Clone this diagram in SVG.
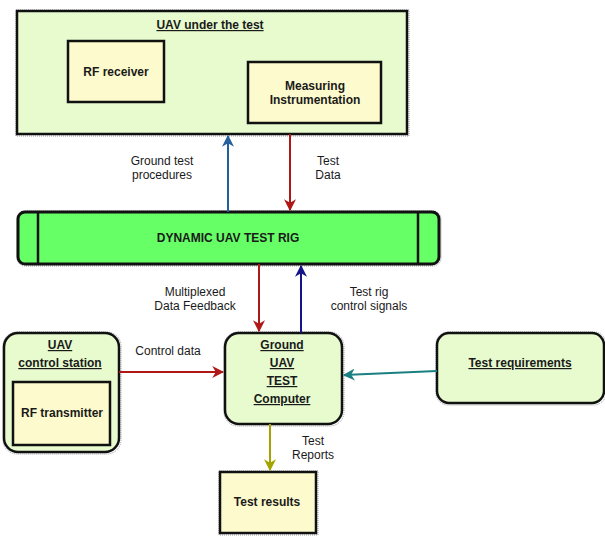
<svg xmlns="http://www.w3.org/2000/svg" width="605" height="536" viewBox="0 0 605 536">
<style>
  .box{stroke:#111;stroke-width:2.5}
  .green{fill:#e7fbcf}
  .yellow{fill:#fdfbcd}
  .shadow{fill:none;stroke:#999;stroke-width:1;stroke-dasharray:1 1}
  text{font-family:"Liberation Sans",Arial,sans-serif;font-size:12px;fill:#1a1a1a;text-anchor:middle}
  .b{font-weight:bold}
  .u{text-decoration:underline}
  .lbl{font-size:12px}
  .c{fill:none;stroke-width:2}
</style>
<defs>
  <marker id="aRed" viewBox="0 0 10 10" refX="9" refY="5" markerWidth="6" markerHeight="6" orient="auto"><path d="M0,0 L10,5 L0,10 L3,5 Z" fill="#b01818"/></marker>
  <marker id="aBlue" viewBox="0 0 10 10" refX="9" refY="5" markerWidth="6" markerHeight="6" orient="auto"><path d="M0,0 L10,5 L0,10 L3,5 Z" fill="#245f9e"/></marker>
  <marker id="aNavy" viewBox="0 0 10 10" refX="9" refY="5" markerWidth="6" markerHeight="6" orient="auto"><path d="M0,0 L10,5 L0,10 L3,5 Z" fill="#14148a"/></marker>
  <marker id="aOlive" viewBox="0 0 10 10" refX="9" refY="5" markerWidth="6" markerHeight="6" orient="auto"><path d="M0,0 L10,5 L0,10 L3,5 Z" fill="#a4a400"/></marker>
  <marker id="aTeal" viewBox="0 0 10 10" refX="9" refY="5" markerWidth="6" markerHeight="6" orient="auto"><path d="M0,0 L10,5 L0,10 L3,5 Z" fill="#1a7f80"/></marker>
</defs>

<g id="uav-under-test">
  <rect class="shadow" x="16" y="10" width="393" height="126"/>
  <rect class="box green" x="17" y="11" width="390" height="123"/>
  <text class="b u" x="210" y="29">UAV under the test</text>
</g>
<g id="rf-receiver">
  <rect class="box yellow" x="68" y="41" width="96" height="61"/>
  <text class="b" x="116" y="76">RF receiver</text>
</g>
<g id="measuring">
  <rect class="box yellow" x="248" y="62" width="133" height="61"/>
  <text class="b" x="315" y="90">Measuring</text>
  <text class="b" x="315" y="104">Instrumentation</text>
</g>

<g id="test-rig">
  <rect class="shadow" x="17" y="211" width="424" height="55" rx="8"/>
  <rect x="18" y="212" width="421" height="52" rx="7" fill="#66ff66" stroke="#111" stroke-width="3"/>
  <line x1="38" y1="212" x2="38" y2="264" stroke="#111" stroke-width="2.5"/>
  <line x1="418" y1="212" x2="418" y2="264" stroke="#111" stroke-width="2.5"/>
  <text class="b" x="228" y="242">DYNAMIC UAV TEST RIG</text>
</g>

<g id="uav-control-station">
  <rect class="shadow" x="3" y="332" width="118" height="122" rx="14"/>
  <rect class="box green" x="4" y="333" width="115" height="119" rx="14"/>
  <text class="b u" x="60" y="349">UAV</text>
  <text class="b u" x="60" y="367">control station</text>
</g>
<g id="rf-transmitter">
  <rect class="box yellow" x="13" y="382" width="97" height="63"/>
  <text class="b" x="62" y="417">RF transmitter</text>
</g>

<g id="ground-computer">
  <rect class="shadow" x="224" y="332" width="120" height="94" rx="14"/>
  <rect class="box green" x="225" y="333" width="117" height="91" rx="14"/>
  <text class="b u" x="282" y="349">Ground</text>
  <text class="b u" x="282" y="367">UAV</text>
  <text class="b u" x="282" y="385">TEST</text>
  <text class="b u" x="282" y="403">Computer</text>
</g>

<g id="test-requirements">
  <rect class="shadow" x="436" y="332" width="170" height="73" rx="12"/>
  <rect class="box green" x="437" y="333" width="167" height="70" rx="12"/>
  <text class="b u" x="520" y="367">Test requirements</text>
</g>

<g id="test-results">
  <rect class="shadow" x="219" y="471" width="99" height="64"/>
  <rect class="box yellow" x="220" y="472" width="96" height="61"/>
  <text class="b" x="267" y="506">Test results</text>
</g>

<g id="connectors">
  <line class="c" x1="228" y1="212" x2="228" y2="136" stroke="#245f9e" marker-end="url(#aBlue)"/>
  <line class="c" x1="290" y1="134" x2="290" y2="210" stroke="#b01818" marker-end="url(#aRed)"/>
  <line class="c" x1="259" y1="264" x2="259" y2="331" stroke="#b01818" marker-end="url(#aRed)"/>
  <line class="c" x1="301" y1="333" x2="301" y2="266" stroke="#14148a" marker-end="url(#aNavy)"/>
  <line class="c" x1="119" y1="372" x2="223" y2="372" stroke="#b01818" marker-end="url(#aRed)"/>
  <line class="c" x1="437" y1="371" x2="344" y2="375" stroke="#1a7f80" marker-end="url(#aTeal)"/>
  <line class="c" x1="270" y1="424" x2="270" y2="470" stroke="#a4a400" marker-end="url(#aOlive)"/>

  <text class="lbl" x="162" y="165">Ground test</text>
  <text class="lbl" x="162" y="179">procedures</text>
  <text class="lbl" x="328" y="165">Test</text>
  <text class="lbl" x="328" y="179">Data</text>
  <text class="lbl" x="195" y="296">Multiplexed</text>
  <text class="lbl" x="195" y="310">Data Feedback</text>
  <text class="lbl" x="369" y="296">Test rig</text>
  <text class="lbl" x="369" y="310">control signals</text>
  <text class="lbl" x="168" y="355">Control data</text>
  <text class="lbl" x="313" y="445">Test</text>
  <text class="lbl" x="313" y="459">Reports</text>
</g>
</svg>
